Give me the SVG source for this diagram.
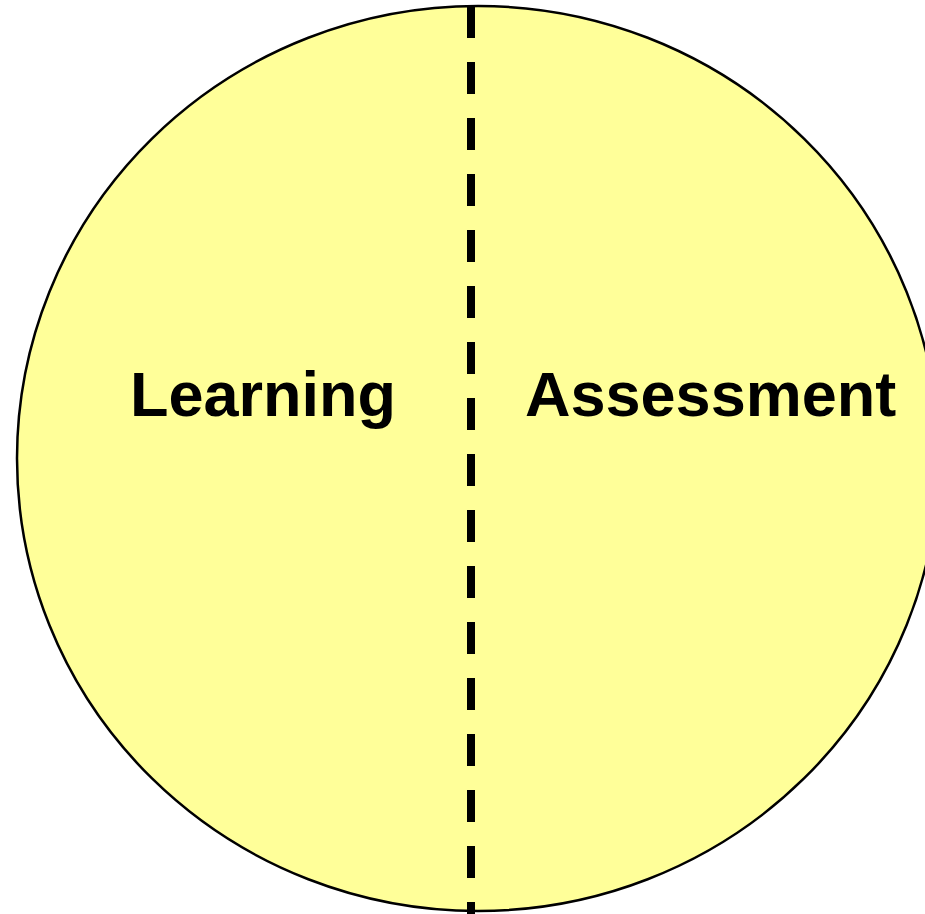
<svg xmlns="http://www.w3.org/2000/svg" width="925" height="914" viewBox="0 0 925 914">
<style>
.lbl{font-family:"Liberation Sans",Arial,sans-serif;font-weight:bold;font-size:63px;fill:#000}
</style>
<rect width="925" height="914" fill="#fff"/>
<g id="circle">
<ellipse cx="478" cy="458.5" rx="461" ry="452.5" fill="#ffff99" stroke="#000" stroke-width="2.5"/>
</g>
<g id="connectors">
<line x1="471" y1="6" x2="471" y2="914" stroke="#000" stroke-width="8" stroke-dasharray="32 24"/>
</g>
<g id="learning"><text class="lbl" x="130" y="416">Learning</text></g>
<g id="assessment"><text class="lbl" x="525" y="416">Assessment</text></g>
</svg>
